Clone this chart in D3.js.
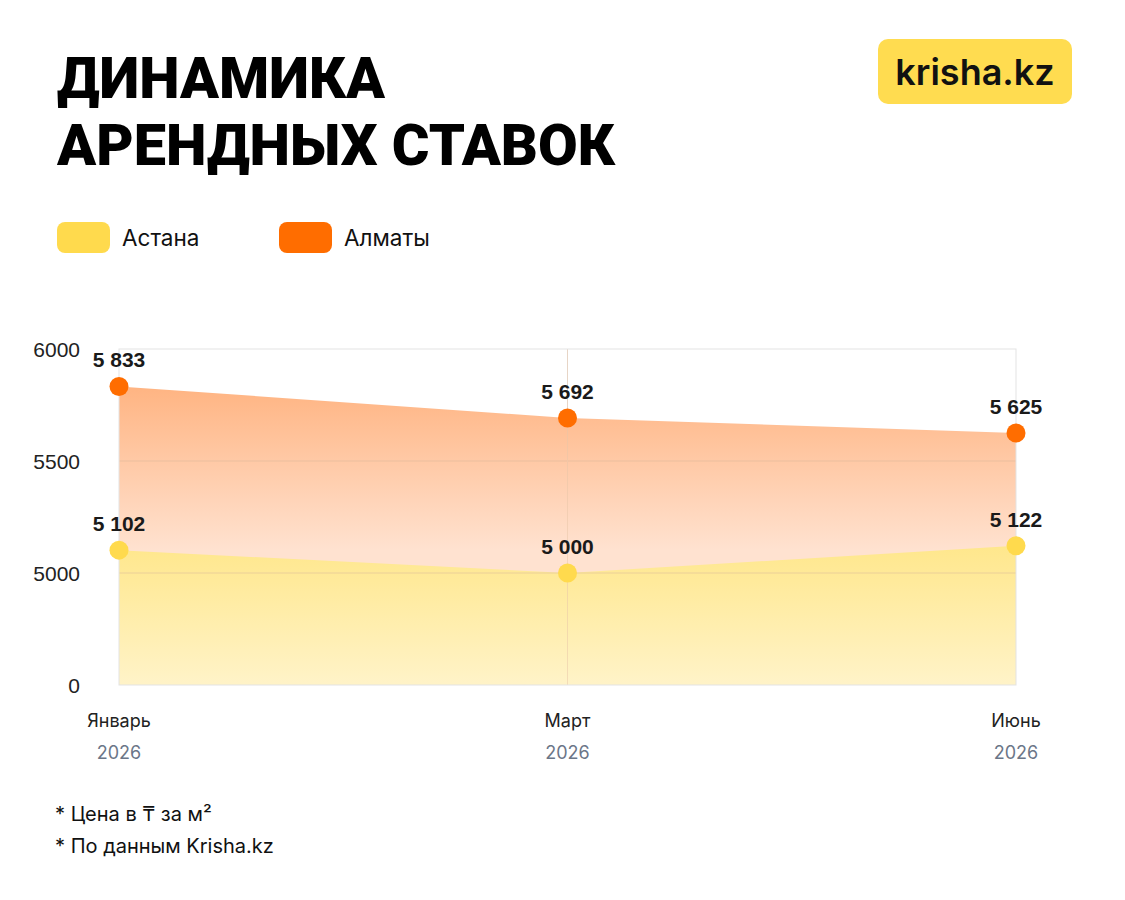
<!DOCTYPE html>
<html lang="ru">
<head>
    <meta charset="UTF-8">
    <title>Динамика арендных ставок</title>
    <script src="https://d3js.org/d3.v7.min.js"></script>
    <style>
        body {
            margin: 0;
            background: #fff;
        }
        svg {
            display: block;
        }
        .title {
            font-family: 'Roboto', 'Inter', sans-serif;
            font-weight: 900;
            font-size: 57px;
            fill: #000;
        }
        .legend-text {
            font-family: 'Inter', sans-serif;
            font-size: 22.5px;
            fill: #111;
        }
        .tick-y {
            font-family: 'Liberation Sans', Arial, sans-serif;
            font-size: 21px;
            fill: #222;
        }
        .value-label {
            font-family: 'Liberation Sans', Arial, sans-serif;
            font-weight: bold;
            font-size: 21px;
            fill: #1a1a1a;
        }
        .month {
            font-family: 'Inter', sans-serif;
            font-size: 18px;
            fill: #222;
        }
        .year {
            font-family: 'Inter', sans-serif;
            font-size: 18px;
            fill: #6b7688;
        }
        .note {
            font-family: 'Inter', sans-serif;
            font-size: 20px;
            fill: #111;
        }
    </style>
</head>
<body>
<svg id="chart" width="1125" height="900"></svg>
<script>
    const months = ["Январь", "Март", "Июнь"];
    const years = ["2026", "2026", "2026"];
    const astana = [5102, 5000, 5122];
    const almaty = [5833, 5692, 5625];
    const yTicks = [0, 5000, 5500, 6000];
    const seriesNames = ["Астана", "Алматы"];
    const seriesColors = ["#ffda4d", "#ff6d00"];

    const svg = d3.select("#chart");
    const fmt = v => d3.format(",")(v).replace(/,/g, " ");

    // заголовок
    const title = svg.append("text").attr("class", "title");
    title.append("tspan").attr("x", 57).attr("y", 98)
        .attr("textLength", 328).attr("lengthAdjust", "spacingAndGlyphs")
        .text("ДИНАМИКА");
    title.append("tspan").attr("x", 57).attr("y", 165)
        .attr("textLength", 558).attr("lengthAdjust", "spacingAndGlyphs")
        .text("АРЕНДНЫХ СТАВОК");

    // логотип
    svg.append("rect")
        .attr("x", 878).attr("y", 39)
        .attr("width", 194).attr("height", 65)
        .attr("rx", 10)
        .attr("fill", "#ffdc50");
    svg.append("text")
        .attr("x", 975).attr("y", 85)
        .attr("text-anchor", "middle")
        .style("font-family", "'Inter', sans-serif")
        .style("font-weight", 600)
        .style("font-size", "36px")
        .attr("fill", "#111")
        .text("krisha.kz");

    // легенда
    const legend = svg.append("g");
    seriesNames.forEach((name, i) => {
        const lx = 57 + i * 222;
        legend.append("rect")
            .attr("x", lx).attr("y", 222)
            .attr("width", 53).attr("height", 31)
            .attr("rx", 8)
            .attr("fill", seriesColors[i]);
        legend.append("text")
            .attr("class", "legend-text")
            .attr("x", lx + 65).attr("y", 246)
            .text(name);
    });

    // область графика
    const plotLeft = 119, plotRight = 1016, plotTop = 349, plotBottom = 685;

    const x = d3.scalePoint()
        .domain(months)
        .range([plotLeft, plotRight]);

    // ось Y неравномерная: 0, 5000, 5500, 6000 на равных шагах
    const y = d3.scaleLinear()
        .domain(yTicks)
        .range(yTicks.map((d, i) => plotBottom - i * (plotBottom - plotTop) / (yTicks.length - 1)));

    const defs = svg.append("defs");
    const gOrange = defs.append("linearGradient")
        .attr("id", "grad-almaty")
        .attr("gradientUnits", "userSpaceOnUse")
        .attr("x1", 0).attr("x2", 0)
        .attr("y1", y(almaty[0])).attr("y2", y(astana[0]));
    gOrange.append("stop").attr("offset", "0%").attr("stop-color", "#ffb482");
    gOrange.append("stop").attr("offset", "100%").attr("stop-color", "#ffe2d0");

    const gYellow = defs.append("linearGradient")
        .attr("id", "grad-astana")
        .attr("gradientUnits", "userSpaceOnUse")
        .attr("x1", 0).attr("x2", 0)
        .attr("y1", y(astana[2])).attr("y2", plotBottom);
    gYellow.append("stop").attr("offset", "0%").attr("stop-color", "#ffe78c");
    gYellow.append("stop").attr("offset", "100%").attr("stop-color", "#fff3c8");

    // сетка
    const grid = svg.append("g");
    grid.selectAll("line.h")
        .data(yTicks.slice(1, -1))
        .join("line")
        .attr("x1", plotLeft).attr("x2", plotRight)
        .attr("y1", d => y(d)).attr("y2", d => y(d))
        .attr("stroke", "#e6e6e6");
    grid.selectAll("line.v")
        .data(months.slice(1, -1))
        .join("line")
        .attr("x1", d => x(d)).attr("x2", d => x(d))
        .attr("y1", plotTop).attr("y2", plotBottom)
        .attr("stroke", "#e6e6e6");

    const area = vals => d3.area()
        .x((d, i) => x(months[i]))
        .y0(plotBottom)
        .y1(d => y(d))(vals);

    svg.append("path")
        .attr("d", area(almaty))
        .attr("fill", "url(#grad-almaty)");
    svg.append("path")
        .attr("d", area(astana))
        .attr("fill", "url(#grad-astana)");

    // сетка поверх заливки (полупрозрачная)
    const gridOver = svg.append("g").attr("opacity", 0.5);
    yTicks.slice(1, -1).forEach(d => {
        gridOver.append("line")
            .attr("x1", plotLeft).attr("x2", plotRight)
            .attr("y1", y(d)).attr("y2", y(d))
            .attr("stroke", "#d9b89a");
    });
    months.slice(1, -1).forEach(d => {
        gridOver.append("line")
            .attr("x1", x(d)).attr("x2", x(d))
            .attr("y1", plotTop).attr("y2", plotBottom)
            .attr("stroke", "#e8c6a8");
    });

    // рамка
    svg.append("rect")
        .attr("x", plotLeft).attr("y", plotTop)
        .attr("width", plotRight - plotLeft).attr("height", plotBottom - plotTop)
        .attr("fill", "none")
        .attr("stroke", "#e3e3e3");

    // подписи оси Y
    svg.append("g")
        .selectAll("text")
        .data(yTicks)
        .join("text")
        .attr("class", "tick-y")
        .attr("x", 80)
        .attr("y", d => y(d))
        .attr("dy", "0.36em")
        .attr("text-anchor", "end")
        .text(d => d);

    // подписи оси X
    const xl = svg.append("g");
    months.forEach((m, i) => {
        xl.append("text")
            .attr("class", "month")
            .attr("x", x(m)).attr("y", 727)
            .attr("text-anchor", "middle")
            .text(m);
        xl.append("text")
            .attr("class", "year")
            .attr("x", x(m)).attr("y", 759)
            .attr("text-anchor", "middle")
            .text(years[i]);
    });

    // точки и значения
    [astana, almaty].forEach((vals, s) => {
        const g = svg.append("g");
        g.selectAll("circle")
            .data(vals)
            .join("circle")
            .attr("cx", (d, i) => x(months[i]))
            .attr("cy", d => y(d))
            .attr("r", 9.5)
            .attr("fill", seriesColors[s]);
        g.selectAll("text")
            .data(vals)
            .join("text")
            .attr("class", "value-label")
            .attr("x", (d, i) => x(months[i]))
            .attr("y", d => y(d) - 19)
            .attr("text-anchor", "middle")
            .text(d => fmt(d));
    });

    // примечания
    svg.append("text").attr("class", "note").attr("x", 55).attr("y", 821).text("* Цена в ₸ за м²");
    svg.append("text").attr("class", "note").attr("x", 55).attr("y", 853).text("* По данным Krisha.kz");
</script>
</body>
</html>
